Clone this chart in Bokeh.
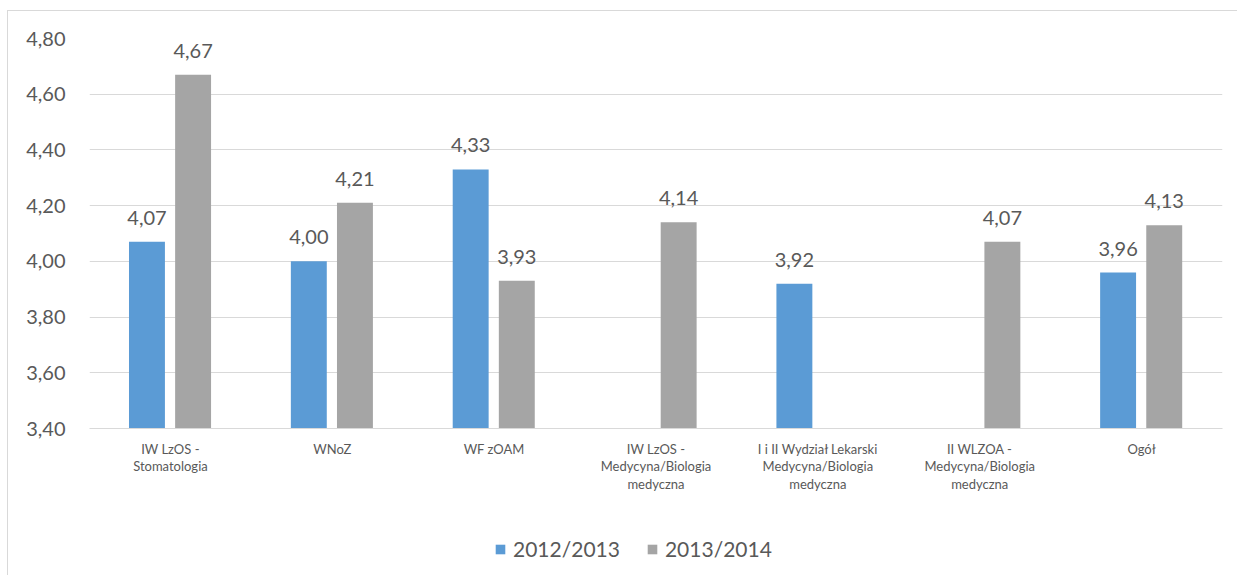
from bokeh.plotting import figure
from bokeh.layouts import column
from bokeh.models import ColumnDataSource, FixedTicker, Legend, LegendItem, LabelSet
from bokeh.core.properties import value
from bokeh.embed import file_html
from bokeh.resources import INLINE

categories = [
    "IW LzOS -\nStomatologia",
    "WNoZ",
    "WF zOAM",
    "IW LzOS -\nMedycyna/Biologia\nmedyczna",
    "I i II Wydział Lekarski\nMedycyna/Biologia\nmedyczna",
    "II WLZOA -\nMedycyna/Biologia\nmedyczna",
    "Ogół",
]
series_names = ["2012/2013", "2013/2014"]
values_2012 = [4.07, 4.00, 4.33, None, 3.92, None, 3.96]
values_2013 = [4.67, 4.21, 3.93, 4.14, None, 4.07, 4.13]
y_ticks = [3.40, 3.60, 3.80, 4.00, 4.20, 4.40, 4.60, 4.80]
y_tick_labels = ["3,40", "3,60", "3,80", "4,00", "4,20", "4,40", "4,60", "4,80"]

colors = ["#5B9BD5", "#A5A5A5"]
FONT = "Lato"
TXT = "#595959"
W = 1229

p = figure(width=W, height=520, output_backend="svg", toolbar_location=None,
           x_range=(0, len(categories)), y_range=(3.40, 4.80),
           min_border_left=81, min_border_right=15, min_border_top=27, min_border_bottom=103)
p.outline_line_color = None
p.background_fill_color = "white"
p.border_fill_color = "white"

offsets = [-0.145, 0.140]
bar_w = 0.222
sources = []
for vals, off, col in zip([values_2012, values_2013], offsets, colors):
    xs, tops, labs = [], [], []
    for i, v in enumerate(vals):
        if v is None:
            continue
        xs.append(i + 0.5 + off)
        tops.append(v)
        labs.append(f"{v:.2f}".replace(".", ","))
    src = ColumnDataSource(dict(x=xs, top=tops, lab=labs))
    sources.append(src)
    p.vbar(x="x", top="top", bottom=3.40, width=bar_w, source=src,
           fill_color=col, line_color=None)
    ls = LabelSet(x="x", y="top", text="lab", source=src, text_align="center",
                  text_baseline="bottom", y_offset=17, text_font=value(FONT),
                  text_font_size="20px", text_color=TXT)
    p.add_layout(ls)

# axes
p.xaxis.ticker = FixedTicker(ticks=[i + 0.5 for i in range(len(categories))])
p.xaxis.major_label_overrides = {i + 0.5: c for i, c in enumerate(categories)}
p.xaxis.axis_line_color = "#d9d9d9"
p.xaxis.major_tick_line_color = None
p.xaxis.minor_tick_line_color = None
p.xaxis.major_label_text_font = FONT
p.xaxis.major_label_text_font_size = "13px"
p.xaxis.major_label_text_color = TXT
p.xaxis.major_label_standoff = 6
p.xaxis.major_label_text_line_height = 1.1

p.yaxis.ticker = FixedTicker(ticks=y_ticks)
p.yaxis.major_label_overrides = {t: l for t, l in zip(y_ticks, y_tick_labels)}
p.yaxis.axis_line_color = None
p.yaxis.major_tick_line_color = None
p.yaxis.minor_tick_line_color = None
p.yaxis.major_label_text_font = FONT
p.yaxis.major_label_text_font_size = "20px"
p.yaxis.major_label_text_color = TXT
p.yaxis.major_label_standoff = 18

p.xgrid.grid_line_color = None
p.ygrid.ticker = FixedTicker(ticks=y_ticks)
p.ygrid.grid_line_color = "#d9d9d9"
p.ygrid.grid_line_width = 1

# legend strip (same data sources, drawn off-range so only the legend shows)
lg = figure(width=W, height=44, output_backend="svg", toolbar_location=None,
            x_range=(100, 101), y_range=(100, 101), min_border=0)
lg.axis.visible = False
lg.grid.visible = False
lg.outline_line_color = None
lg.border_fill_color = "white"
lg_renderers = [lg.vbar(x="x", top="top", bottom=3.40, width=bar_w, source=s,
                        fill_color=c, line_color=None) for s, c in zip(sources, colors)]
legend = Legend(items=[LegendItem(label=n, renderers=[r]) for n, r in zip(series_names, lg_renderers)],
                orientation="horizontal", location=(405, 14),
                label_text_font=FONT, label_text_font_size="21px", label_text_color=TXT,
                glyph_width=12, glyph_height=12, spacing=26, padding=0, margin=0,
                label_standoff=7, border_line_color=None, background_fill_alpha=0)
lg.add_layout(legend, "center")

layout = column(p, lg, spacing=0,
                styles={"border-left": "1px solid #d9d9d9", "border-top": "1px solid #d9d9d9",
                        "margin-top": "10px", "margin-left": "7px"})

open("out.html", "w").write(file_html(layout, INLINE))
